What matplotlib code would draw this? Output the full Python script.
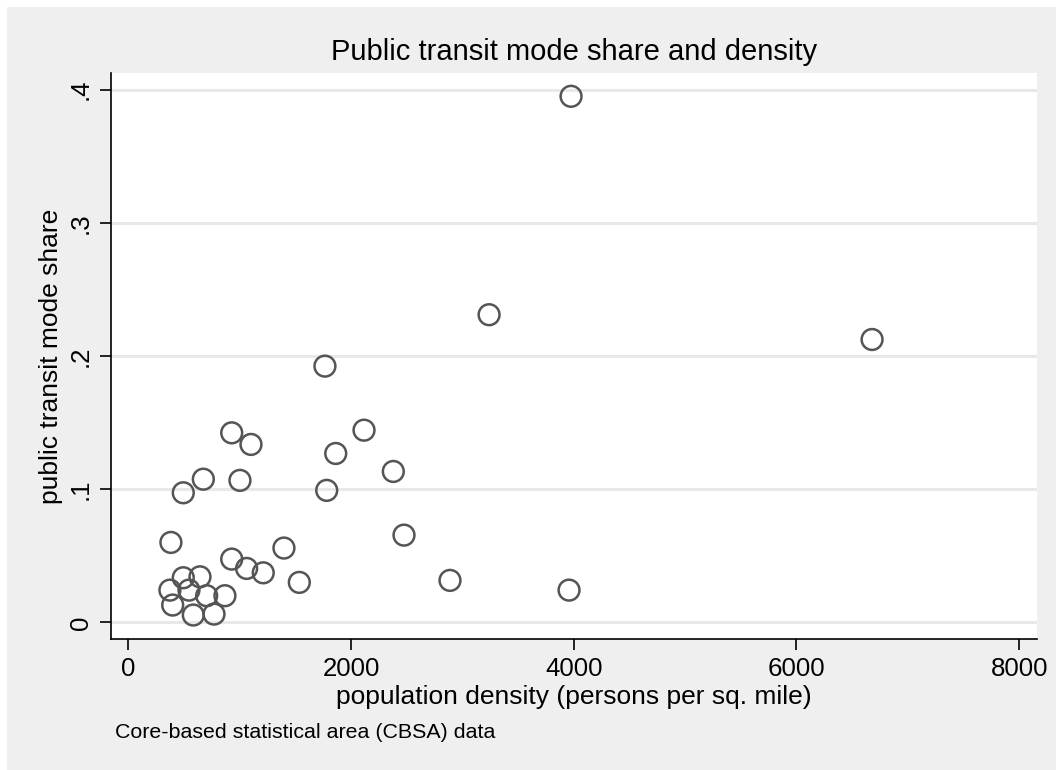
import matplotlib
matplotlib.use("Agg")
import matplotlib.pyplot as plt
from matplotlib.patches import Rectangle

plt.rcParams['font.family'] = ['Liberation Sans', 'DejaVu Sans']

# CBSA population density vs. public transit mode share
density = [3976, 3240, 6679, 1766, 3958, 929, 1102, 674, 494, 1003,
           1863, 2117, 2380, 1782, 2476, 383, 1398, 929, 1063, 1212,
           1536, 2889, 494, 644, 374, 545, 704, 868, 399, 584, 770]
transit = [0.395, 0.231, 0.2124, 0.1924, 0.0242, 0.1423, 0.1336, 0.1075,
           0.0973, 0.1066, 0.1268, 0.1443, 0.1133, 0.0991, 0.0655, 0.0600,
           0.0558, 0.0475, 0.0405, 0.0372, 0.0300, 0.0315, 0.0335, 0.0342,
           0.0242, 0.0242, 0.0200, 0.0200, 0.0130, 0.0055, 0.0062]

xticks = [0, 2000, 4000, 6000, 8000]
yticks = [0, 0.1, 0.2, 0.3, 0.4]
ytick_labels = ['0', '.1', '.2', '.3', '.4']

W, H = 1056, 770
fig = plt.figure(figsize=(W / 100, H / 100), dpi=100, facecolor='#efefef')
# thin white strips along the top and left edges
for rect in [(0, 0, 7 / W, 1), (0, 1 - 7 / H, 1, 7 / H)]:
    fig.patches.append(Rectangle(rect[:2], rect[2], rect[3], transform=fig.transFigure,
                                 facecolor='white', edgecolor='none', zorder=-1))

left, right, top, bottom = 111, 1037, 73, 639
ax = fig.add_axes([left / W, 1 - bottom / H, (right - left) / W, (bottom - top) / H])
ax.set_facecolor('white')

ax.scatter(density, transit, s=15 ** 2, facecolors='none', edgecolors='#555555',
           linewidths=1.8, zorder=3)

ax.set_xlim(-155, 8160)
ax.set_ylim(-0.0125, 0.4125)
ax.set_xticks(xticks)
ax.set_xticklabels([str(t) for t in xticks])
ax.set_yticks(yticks)
ax.set_yticklabels(ytick_labels, rotation=90, va='center')
ax.grid(axis='y', color='#e8e8e8', linewidth=2.2, zorder=0)
ax.set_axisbelow(True)

for s in ['top', 'right']:
    ax.spines[s].set_visible(False)
for s in ['left', 'bottom']:
    ax.spines[s].set_color('black')
    ax.spines[s].set_linewidth(1.2)

ax.tick_params(axis='both', length=8, width=1.2, color='black', labelsize=18.6, pad=5)

ax.set_xlabel('population density (persons per sq. mile)', fontsize=19, labelpad=3)
ax.set_ylabel('public transit mode share', fontsize=19, labelpad=4)
ax.set_title('Public transit mode share and density', fontsize=21, pad=9)

fig.text(115 / W, 1 - 732 / H, 'Core-based statistical area (CBSA) data',
         fontsize=15.4, va='center', ha='left')

fig.savefig('out.png', dpi=100, facecolor=fig.get_facecolor())
